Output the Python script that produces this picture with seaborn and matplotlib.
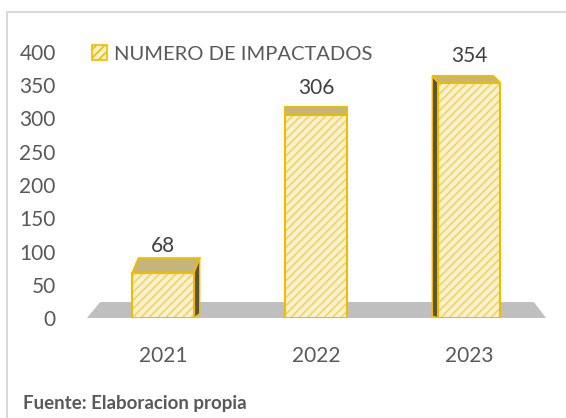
import matplotlib
matplotlib.use("Agg")
import matplotlib.pyplot as plt
import seaborn as sns
import pandas as pd
from matplotlib.patches import Polygon, Rectangle

# ---- data ----
years = ["2021", "2022", "2023"]
impactados = [68, 306, 354]
series_name = "NUMERO DE IMPACTADOS"
y_ticks = [0, 50, 100, 150, 200, 250, 300, 350, 400]
source_note = "Fuente: Elaboracion propia"

df = pd.DataFrame({"year": years, "value": impactados})

sns.set_theme(style="white")
plt.rcParams["font.family"] = ["Lato", "DejaVu Sans"]
plt.rcParams["hatch.linewidth"] = 1.2

TXT = "#595959"
FRONT = "#fff6cc"
HATCH = "#f6d35c"
EDGE = "#f0bc00"
TOP = "#c4b47e"
SIDE = "#5c5332"
FLOOR = "#bfbfbf"

fig = plt.figure(figsize=(5.66, 4.18), dpi=100)
ax = fig.add_axes([60 / 566, 1 - 318 / 418, 490 / 566, 266 / 418])

sns.barplot(data=df, x="year", y="value", ax=ax, color=FRONT, width=0.4,
            edgecolor=HATCH, linewidth=0.0, hatch="////", label=series_name,
            zorder=3)

ax.set_ylim(0, 400)
ax.set_xlim(-0.673, 2.529)
ax.set_yticks(y_ticks)
ax.set_xlabel("")
ax.set_ylabel("")
for s in ax.spines.values():
    s.set_visible(False)
ax.grid(False)
ax.tick_params(axis="y", length=0, pad=3, labelsize=15, labelcolor=TXT)
ax.tick_params(axis="x", length=0, pad=20, labelsize=15, labelcolor=TXT)

# floor (decoration in axes coordinates)
floor = Polygon([(0.055, 0.0), (0.992, 0.0), (0.967, 0.06), (0.082, 0.06)],
                closed=True, transform=ax.transAxes, facecolor=FLOOR,
                edgecolor="none", zorder=1)
ax.add_patch(floor)

# pseudo-3D faces and outlines derived from the drawn bars
for p, v in zip(ax.patches[:len(years)], impactados):
    x0 = p.get_x()
    w = p.get_width()
    h = p.get_height()
    c = x0 + w / 2
    ax.add_patch(Rectangle((x0, 0), w, h, fill=False, edgecolor=EDGE,
                           linewidth=1.5, zorder=3.5))
    depth = 22 - 0.042 * (h - 68)
    dx = -(c - 1) * 0.04
    top = Polygon([(x0, h), (x0 + w, h), (x0 + w + dx, h + depth),
                   (x0 + dx, h + depth)], closed=True, facecolor=TOP,
                  edgecolor=EDGE, linewidth=1.4, zorder=4)
    ax.add_patch(top)
    if dx > 0.005:
        side = Polygon([(x0 + w, 0), (x0 + w, h), (x0 + w + dx, h + depth),
                        (x0 + w + dx, depth * 0.3)], closed=True,
                       facecolor=SIDE, edgecolor=EDGE, linewidth=1.0, zorder=2)
        ax.add_patch(side)
    elif dx < -0.005:
        side = Polygon([(x0, 0), (x0, h), (x0 + dx, h + depth),
                        (x0 + dx, depth * 0.3)], closed=True,
                       facecolor=SIDE, edgecolor=EDGE, linewidth=1.0, zorder=2)
        ax.add_patch(side)
    ax.annotate(f"{v}", (c, h), xytext=(0, 19), textcoords="offset points",
                ha="center", va="center", fontsize=15, color="#404040",
                zorder=5)

leg = ax.legend(loc="center left", bbox_to_anchor=(92 / 566, 1 - 54 / 418),
                bbox_transform=fig.transFigure, frameon=False, fontsize=14.5,
                handlelength=0.75, handleheight=0.75, handletextpad=0.35,
                borderpad=0, borderaxespad=0, labelcolor=TXT)
for hnd in leg.legend_handles:
    hnd.set_edgecolor(EDGE)
    hnd.set_linewidth(1.2)

fig.text(23 / 566, 1 - 403 / 418, source_note, fontsize=13.5,
         fontweight="bold", color=TXT, ha="left", va="center")

# outer frame
fig.add_artist(Rectangle((7 / 566, -0.05), 1.1, 1 - 12 / 418 + 0.05,
                         transform=fig.transFigure, fill=False,
                         edgecolor="#d9d9d9", linewidth=1.5))

fig.savefig("out.png", dpi=100)
